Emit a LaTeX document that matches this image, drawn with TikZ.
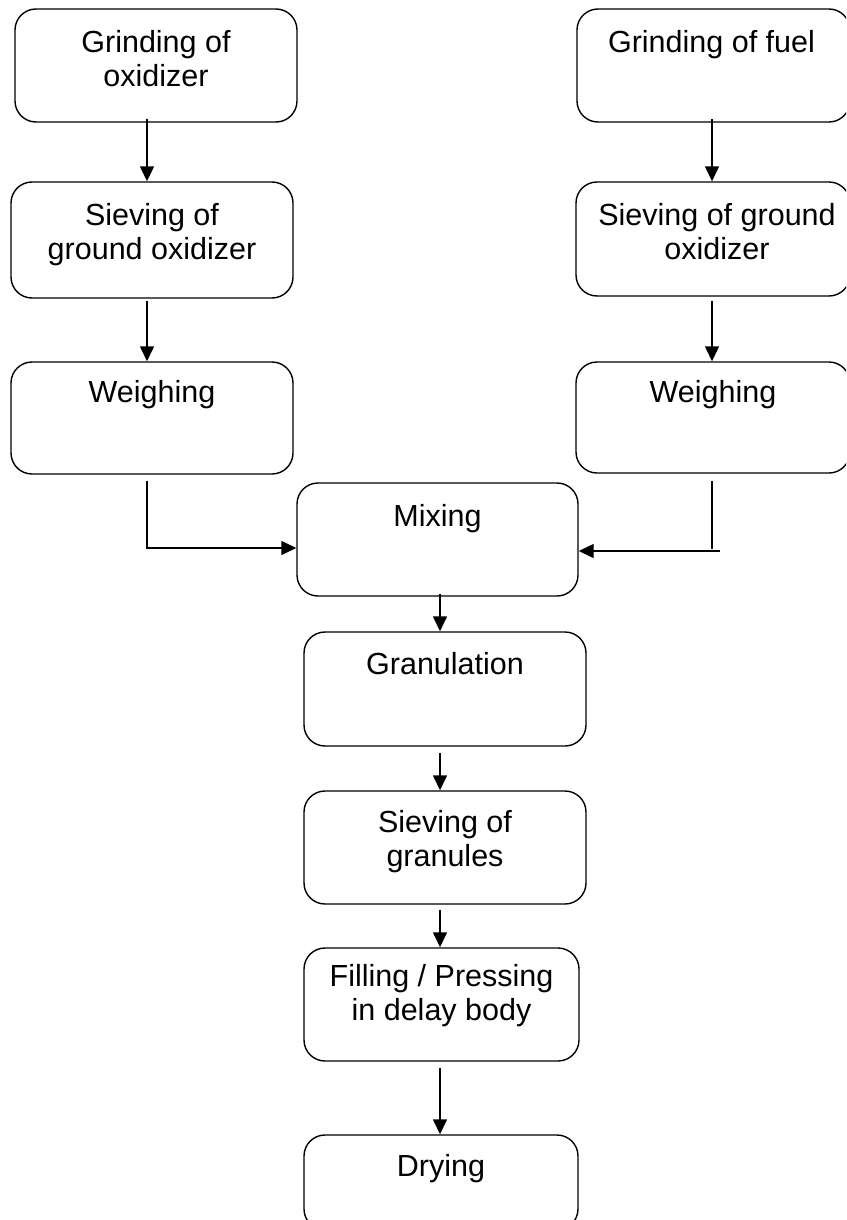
\documentclass[tikz,border=0pt]{standalone}
\usepackage{fontspec}
\setmainfont{Liberation Sans}
\usetikzlibrary{arrows.meta}

\begin{document}
\begin{tikzpicture}[x=1pt, y=-1pt,
  box/.style={draw, line width=1.4pt, rounded corners=21pt, inner sep=0pt},
  lbl/.style={font=\fontsize{30.5}{34}\selectfont, align=center, inner sep=0pt, anchor=base},
  link/.style={line width=1.4pt},
  arr/.style={line width=1.4pt, -{Triangle[length=15pt,width=14pt]}}
]
% page frame
\path[use as bounding box] (0,0) rectangle (846,1220);
\clip (0,0) rectangle (846,1220);
\fill[white] (0,0) rectangle (846,1220);

% process boxes
\node[box, minimum width=282pt, minimum height=113pt] (g1) at (156,65.5) {};
\node[box, minimum width=273pt, minimum height=113pt] (g2) at (713.5,65.5) {};
\node[box, minimum width=282pt, minimum height=116pt] (s1) at (152,240) {};
\node[box, minimum width=274pt, minimum height=114pt] (s2) at (713,239) {};
\node[box, minimum width=282pt, minimum height=112pt] (w1) at (152,418) {};
\node[box, minimum width=274pt, minimum height=111pt] (w2) at (713,417.5) {};
\node[box, minimum width=281pt, minimum height=113pt] (mix) at (437.5,539.5) {};
\node[box, minimum width=282pt, minimum height=114pt] (gran) at (445,689) {};
\node[box, minimum width=282pt, minimum height=113pt] (sg) at (445,847.5) {};
\node[box, minimum width=275pt, minimum height=113pt] (fill) at (441.5,1004.5) {};
\node[box, minimum width=274pt, minimum height=95pt] (dry) at (441,1182.5) {};

% box texts (the base anchor sits on the last line's baseline)
\node[lbl] (g1t) at ([yshift=-78pt]g1.north) {Grinding of\\oxidizer};
\node[lbl] (g2t) at ([xshift=-2pt,yshift=-44pt]g2.north) {Grinding of fuel};
\node[lbl] (s1t) at ([yshift=-78pt]s1.north) {Sieving of\\ground oxidizer};
\node[lbl] (s2t) at ([xshift=4pt,yshift=-78pt]s2.north) {Sieving of ground\\oxidizer};
\node[lbl] (w1t) at ([yshift=-41pt]w1.north) {Weighing};
\node[lbl] (w2t) at ([yshift=-41pt]w2.north) {Weighing};
\node[lbl] (mixt) at ([yshift=-44pt]mix.north) {Mixing};
\node[lbl] (grant) at ([yshift=-43pt]gran.north) {Granulation};
\node[lbl] (sgt) at ([yshift=-76pt]sg.north) {Sieving of\\granules};
\node[lbl] (fillt) at ([yshift=-73pt]fill.north) {Filling / Pressing\\in delay body};
\node[lbl] (dryt) at ([yshift=-42pt]dry.north) {Drying};

% connector columns and joints
\coordinate (cl) at (147,0);
\coordinate (cr) at (712,0);
\coordinate (cm) at (440,0);
\coordinate (jl) at (0,548);
\coordinate (jv) at (0,549);
\coordinate (rtail) at (720,551);

% left branch
\draw[arr] ([yshift=4pt]g1.south -| cl) -- (s1.north -| cl);
\draw[arr] ([yshift=-2pt]s1.south -| cl) -- (w1.north -| cl);
\draw[arr] ([yshift=-6pt]w1.south -| cl) |- (mix.west |- jl);

% right branch
\draw[arr] ([yshift=4pt]g2.south -| cr) -- (s2.north -| cr);
\draw[arr] ([yshift=-4pt]s2.south -| cr) -- (w2.north -| cr);
\draw[link] ([yshift=-7pt]w2.south -| cr) -- (cr |- jv);
\draw[arr] (rtail) -- (mix.east |- rtail);

% main line
\draw[arr] ([yshift=3pt]mix.south -| cm) -- (gran.north -| cm);
\draw[arr] ([yshift=-6pt]gran.south -| cm) -- (sg.north -| cm);
\draw[arr] ([yshift=-5pt]sg.south -| cm) -- (fill.north -| cm);
\draw[arr] ([yshift=-6pt]fill.south -| cm) -- (dry.north -| cm);
\end{tikzpicture}
\end{document}
